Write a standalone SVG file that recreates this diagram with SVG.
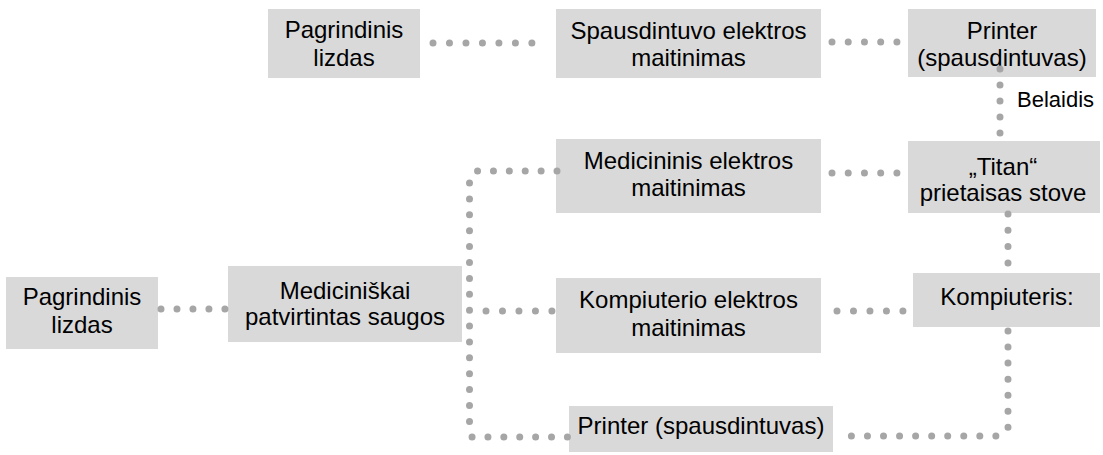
<svg xmlns="http://www.w3.org/2000/svg" width="1103" height="455" viewBox="0 0 1103 455">
<style>
.box{fill:#d9d9d9}
.t{font-family:"Liberation Sans",Arial,sans-serif;font-size:24px;fill:#000;text-anchor:middle}
.c{fill:none;stroke:#a6a6a6;stroke-width:7;stroke-linecap:round;stroke-linejoin:round}
</style>
<g id="n1"><rect class="box" x="268" y="9" width="152" height="69"/><text class="t" x="344" y="38">Pagrindinis</text><text class="t" x="344" y="66">lizdas</text></g>
<g id="n2"><rect class="box" x="556" y="9" width="265" height="69"/><text class="t" x="688.5" y="39">Spausdintuvo elektros</text><text class="t" x="688.5" y="66">maitinimas</text></g>
<g id="n3"><rect class="box" x="908" y="9" width="188" height="68"/><text class="t" x="1002" y="39">Printer</text><text class="t" x="1002" y="66">(spausdintuvas)</text></g>
<g id="lbl"><text class="t" style="font-size:22px;text-anchor:start" x="1017" y="107">Belaidis</text></g>
<g id="n4"><rect class="box" x="556" y="139" width="265" height="74"/><text class="t" x="688.5" y="169">Medicininis elektros</text><text class="t" x="688.5" y="196">maitinimas</text></g>
<g id="n5"><rect class="box" x="908" y="141" width="192" height="72"/><text class="t" x="1003" y="175">„Titan“</text><text class="t" x="1003" y="201">prietaisas stove</text></g>
<g id="n6"><rect class="box" x="913" y="273" width="187" height="54"/><text class="t" x="1007" y="305">Kompiuteris:</text></g>
<g id="n7"><rect class="box" x="556" y="278" width="265" height="75"/><text class="t" x="688.5" y="308">Kompiuterio elektros</text><text class="t" x="688.5" y="336">maitinimas</text></g>
<g id="n8"><rect class="box" x="569" y="406" width="264" height="46"/><text class="t" x="701" y="434">Printer (spausdintuvas)</text></g>
<g id="n9"><rect class="box" x="6" y="277" width="152" height="72"/><text class="t" x="82" y="305">Pagrindinis</text><text class="t" x="82" y="333">lizdas</text></g>
<g id="n10"><rect class="box" x="228" y="266" width="234" height="76"/><text class="t" x="345" y="299">Mediciniškai</text><text class="t" x="345" y="325">patvirtintas saugos</text></g>
<g id="connectors">
<path class="c" d="M433,43 H532" stroke-dasharray="0 16.48"/>
<path class="c" d="M832,42 H897" stroke-dasharray="0 16.23"/>
<path class="c" d="M1000,69 V133" stroke-dasharray="0 15.98"/>
<path class="c" d="M832,173 H897" stroke-dasharray="0 16.23"/>
<path class="c" d="M1008,214 V263" stroke-dasharray="0 16.31"/>
<path class="c" d="M837,311 H903" stroke-dasharray="0 16.48"/>
<path class="c" d="M1008,331 V429 L998,436 H836" stroke-dasharray="0 16.05"/>
<path class="c" d="M557,171 H475 L469.5,182 V423 L472,437 H568" stroke-dasharray="0 15.89"/>
<path class="c" d="M486,311 H552" stroke-dasharray="0 16.48"/>
<path class="c" d="M161,309 H225" stroke-dasharray="0 15.98"/>
</g>
</svg>
